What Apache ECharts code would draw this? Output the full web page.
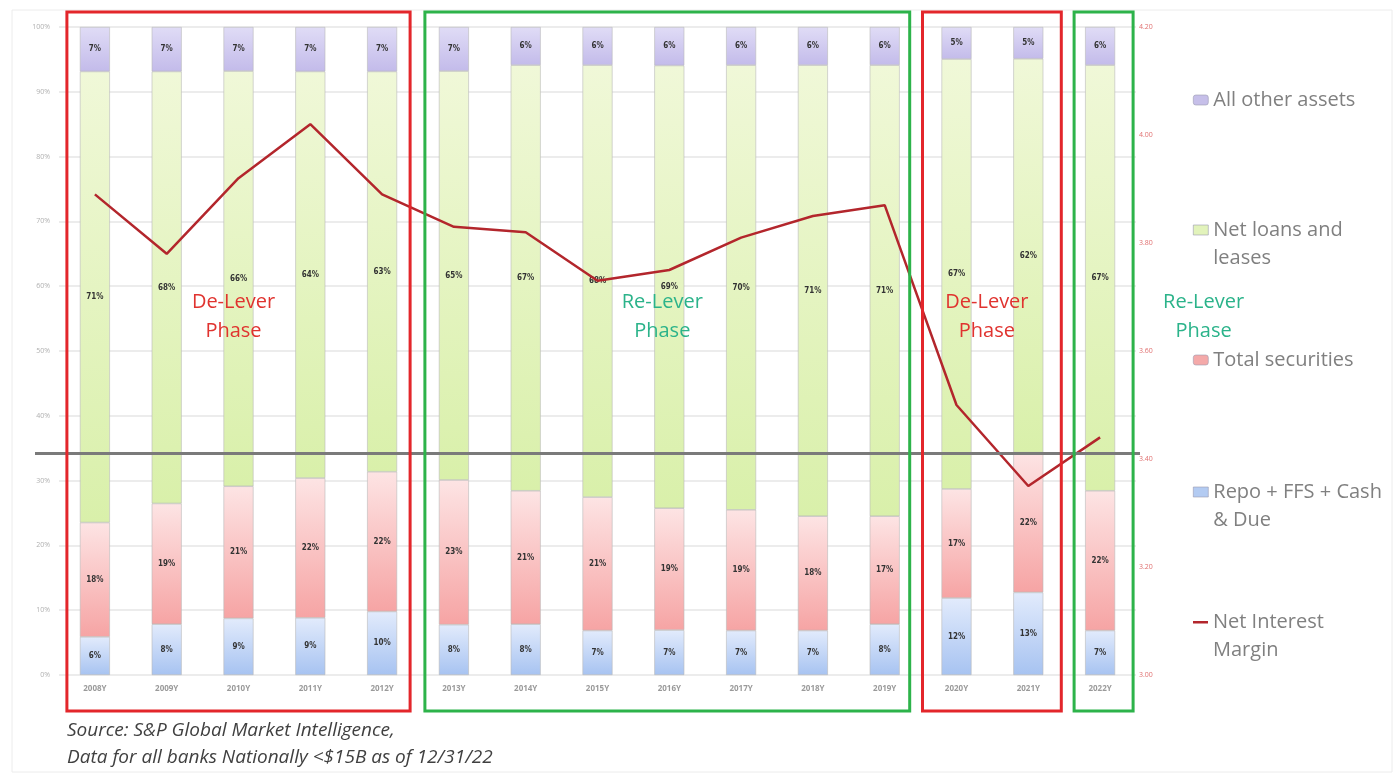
<!DOCTYPE html>
<html>
<head>
<meta charset="UTF-8">
<script src="https://cdn.jsdelivr.net/npm/echarts@6/dist/echarts.min.js"></script>
<title>Bank asset mix and NIM</title>
<style>
	html, body { margin: 0; padding: 0; background: #fff; }
	#main { width: 1394px; height: 779px; }
</style>
</head>
<body>
	<div id="main"></div>

	<script>
		// raw values as labelled on the bars (%), excel 100% stack normalises them
		var years = ['2008Y','2009Y','2010Y','2011Y','2012Y','2013Y','2014Y','2015Y','2016Y','2017Y','2018Y','2019Y','2020Y','2021Y','2022Y'];
		var repo = [6, 8, 9, 9, 10, 8, 8, 7, 7, 7, 7, 8, 12, 13, 7];
		var securities = [18, 19, 21, 22, 22, 23, 21, 21, 19, 19, 18, 17, 17, 22, 22];
		var loans = [71, 68, 66, 64, 63, 65, 67, 68, 69, 70, 71, 71, 67, 62, 67];
		var other = [7, 7, 7, 7, 7, 7, 6, 6, 6, 6, 6, 6, 5, 5, 6];
		var nim = [3.89, 3.78, 3.92, 4.02, 3.89, 3.83, 3.82, 3.73, 3.75, 3.81, 3.85, 3.87, 3.50, 3.35, 3.44];
		var nimRef = 3.41;
		var leftTicks = [0, 100, 10];
		var rightTicks = [3.0, 4.2, 0.2];

		// phase boxes: first / last year index
		var phases = [
			{ from: 0, to: 4, name: 'De-Lever\nPhase', color: '#e3262b' },
			{ from: 5, to: 11, name: 'Re-Lever\nPhase', color: '#2db34a' },
			{ from: 12, to: 13, name: 'De-Lever\nPhase', color: '#e3262b' },
			{ from: 14, to: 14, name: 'Re-Lever\nPhase', color: '#2db34a' }
		];
		var boxPads = [[28, 28], [29, 25], [34, 33], [26, 33]];

		var totals = years.map(function(y, i) {
			return repo[i] + securities[i] + loans[i] + other[i];
		});
		function share(arr) {
			return arr.map(function(v, i) { return v / totals[i] * 100; });
		}
		function grad(top, bottom) {
			return new echarts.graphic.LinearGradient(0, 0, 0, 1, [
				{ offset: 0, color: top },
				{ offset: 1, color: bottom }
			]);
		}
		function barSeries(name, arr, top, bottom) {
			return {
				name: name,
				type: 'bar',
				stack: 'assets',
				barWidth: 30,
				data: share(arr),
				itemStyle: {
					color: grad(top, bottom),
					borderColor: '#b9b9b9',
					borderWidth: 0.6
				},
				label: {
					show: true,
					position: 'inside',
					fontSize: 8,
					fontWeight: 'bold',
					color: '#333',
					fontFamily: 'DejaVu Sans Condensed',
					formatter: function(p) { return arr[p.dataIndex] + '%'; }
				},
				emphasis: { disabled: true }
			};
		}

		var chart = echarts.init(document.getElementById('main'));
		var legendText = { color: '#808080', fontSize: 20, lineHeight: 28, fontFamily: 'Open Sans' };
		// icons sit on the first text line, like excel does
		var boxTop = 'path://M0,0L15,0L15,10L0,10Z M0,38L0.01,38L0,38Z';
		var dashTop = 'path://M0,0L0.01,0L0,0Z M0,4L15,4L15,6.5L0,6.5Z M0,38L0.01,38L0,38Z';
		function legendAt(name, top, swatch, icon, h) {
			var item = { name: name, itemStyle: { color: swatch, borderColor: '#9a9ab0', borderWidth: 0.6 } };
			if (icon) item.icon = icon;
			return {
				data: [item],
				left: 1193,
				top: top,
				padding: 0,
				itemWidth: 15,
				itemHeight: h || 10,
				selectedMode: false,
				textStyle: legendText
			};
		}

		var option = {
			animation: false,
			backgroundColor: '#fff',
			textStyle: { fontFamily: 'Open Sans' },
			grid: { left: 59, right: 258, top: 27, bottom: 104 },
			legend: [
				legendAt('All other assets', 86, '#c6bfe9'),
				legendAt('Net loans and\nleases', 216, '#e2f3bb', boxTop, 38),
				legendAt('Total securities', 346, '#f4a9a9'),
				legendAt('Repo + FFS + Cash\n& Due', 478, '#b3cbf2', boxTop, 38),
				{
					data: [{ name: 'Net Interest\nMargin', icon: dashTop }],
					left: 1193, top: 608, padding: 0,
					itemWidth: 15, itemHeight: 38,
					selectedMode: false,
					textStyle: legendText
				}
			],
			xAxis: {
				type: 'category',
				data: years,
				axisLine: { show: false },
				axisTick: { show: false },
				axisLabel: { color: '#9a9a9a', fontSize: 8, fontWeight: 'bold', margin: 10, interval: 0 }
			},
			yAxis: [{
				type: 'value',
				min: leftTicks[0],
				max: leftTicks[1],
				interval: leftTicks[2],
				axisLine: { show: false },
				axisTick: { show: false },
				axisLabel: { color: '#b0b0b0', fontSize: 7, formatter: '{value}%', margin: 9 },
				splitLine: { lineStyle: { color: '#e6e6e6', width: 1.5 } }
			}, {
				type: 'value',
				min: rightTicks[0],
				max: rightTicks[1],
				interval: rightTicks[2],
				axisLine: { show: false },
				axisTick: { show: false },
				splitLine: { show: false },
				axisLabel: {
					color: '#e07070', fontSize: 7, margin: 3,
					formatter: function(v) { return v.toFixed(2); }
				}
			}],
			series: [
				barSeries('Repo + FFS + Cash\n& Due', repo, '#e2ebfc', '#a7c3f1'),
				barSeries('Total securities', securities, '#fde4e4', '#f6a4a4'),
				barSeries('Net loans and\nleases', loans, '#f0f8d8', '#d9f0aa'),
				barSeries('All other assets', other, '#e0dcf6', '#c3bbea'),
				{
					name: 'Net Interest\nMargin',
					type: 'line',
					yAxisIndex: 1,
					data: nim,
					symbol: 'none',
					z: 5,
					lineStyle: { color: '#b3262c', width: 2.5 },
					itemStyle: { color: '#b3262c' }
				}
			]
		};
		chart.setOption(option);

		// phase boxes, captions and the reference line, placed from the axes
		function drawPhases() {
			var refY = chart.convertToPixel({ yAxisIndex: 1 }, nimRef);
			var els = [{
				type: 'rect',
				shape: { x: 12, y: 10, width: 1380, height: 762 },
				style: { fill: 'none', stroke: '#ececec', lineWidth: 1 },
				z: -1
			}, {
				type: 'line',
				shape: { x1: 35, y1: refY, x2: 1140, y2: refY },
				style: { stroke: '#7a7a7a', lineWidth: 3 },
				z: 50
			}];
			phases.forEach(function(ph, k) {
				var x0 = chart.convertToPixel({ xAxisIndex: 0 }, years[ph.from]) - boxPads[k][0];
				var x1 = chart.convertToPixel({ xAxisIndex: 0 }, years[ph.to]) + boxPads[k][1];
				els.push({
					type: 'rect',
					shape: { x: x0, y: 12, width: x1 - x0, height: 699 },
					style: { fill: 'none', stroke: ph.color, lineWidth: 3 },
					z: 100
				});
				var cx = (x0 + x1) / 2 + (k === 3 ? 100 : -5);
				els.push({
					type: 'text',
					x: cx,
					y: 288,
					style: {
						text: ph.name,
						fill: ph.color === '#e3262b' ? '#e0332f' : '#2bb38a',
						font: '20px "Open Sans"',
						align: 'center',
						lineHeight: 29
					},
					z: 100
				});
			});
			els.push({
				type: 'text',
				x: 67,
				y: 717,
				style: {
					text: 'Source: S&P Global Market Intelligence,\nData for all banks Nationally <$15B as of 12/31/22',
					fill: '#404040',
					font: 'italic 19px "Open Sans"',
					lineHeight: 27
				}
			});
			chart.setOption({ graphic: els });
		}
		drawPhases();
	</script>
</body>
</html>
